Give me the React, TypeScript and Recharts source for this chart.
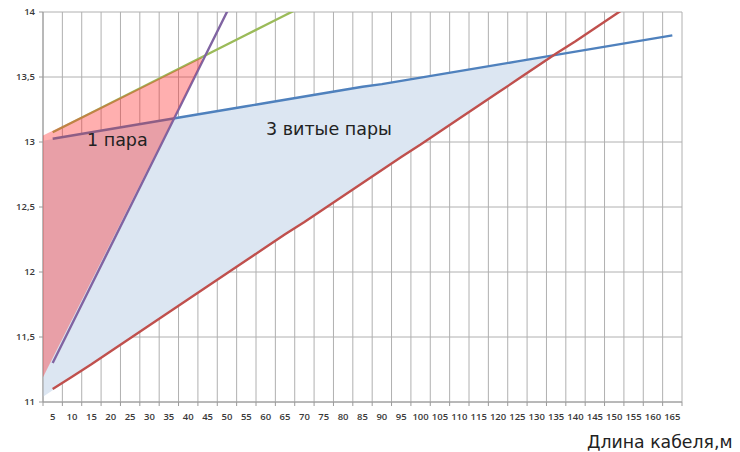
import { ComposedChart, Line, Area, XAxis, YAxis, CartesianGrid } from 'recharts';

// cable length, m (one category every 5 m)
const lengths = [5, 10, 15, 20, 25, 30, 35, 40, 45, 50, 55, 60, 65, 70, 75, 80, 85, 90, 95, 100, 105, 110, 115, 120, 125, 130, 135, 140, 145, 150, 155, 160, 165];

const blueLoss = [13.025, 13.05, 13.075, 13.1, 13.125, 13.15, 13.175, 13.2, 13.225, 13.25, 13.275, 13.3, 13.325, 13.35, 13.375, 13.4, 13.425, 13.445, 13.47, 13.495, 13.52, 13.545, 13.57, 13.595, 13.62, 13.645, 13.67, 13.695, 13.72, 13.745, 13.77, 13.795, 13.82];
const redLoss = [11.1, 11.195, 11.29, 11.39, 11.49, 11.59, 11.69, 11.79, 11.89, 11.99, 12.09, 12.19, 12.29, 12.385, 12.485, 12.585, 12.685, 12.785, 12.885, 12.98, 13.08, 13.18, 13.28, 13.38, 13.48, 13.58, 13.68, 13.775, 13.875, 13.975, 14.075, 14.175, 14.27];
const greenLoss = [13.075, 13.15, 13.225, 13.3, 13.375, 13.45, 13.525, 13.6, 13.675, 13.75, 13.825, 13.9, 13.975, 14.05];
const purpleLoss = [11.3, 11.6, 11.9, 12.2, 12.5, 12.8, 13.1, 13.4, 13.7, 14.0, 14.3];

// shaded zones: [left edge, right end]
const onePairX = [2.5, 43.5];
const onePairLow = [11.19, 13.62];
const onePairHigh = [13.05, 13.65];
const threePairX = [2.5, 135];
const threePairLow = [11.04, 13.67];
const threePairHigh = [13.01, 13.67];

const yTicks = [11, 11.5, 12, 12.5, 13, 13.5, 14];
const bandEdges = lengths.map((v) => v - 2.5).concat([167.5]);

const series = (vals: number[]) => vals.map((y, i) => ({ x: lengths[i], y }));
const zone = (xs: number[], lo: number[], hi: number[]) => xs.map((x, i) => ({ x, r: [lo[i], hi[i]] }));

const tickFont = { fontSize: 9.5, fill: '#3a3a3a', fontFamily: 'Open Sans', fontWeight: 600 };
const noLabel = () => <g />;

export default function App() {
    return (
        <div style={{ position: 'absolute', left: 0, top: 0, width: 740, height: 452, background: '#fff', fontFamily: 'DejaVu Sans' }}>
            <ComposedChart width={740} height={452} margin={{ top: 12, right: 58, left: 0, bottom: 25 }}>
                <CartesianGrid xAxisId="b" stroke="#b0b0b0" strokeWidth={1} />
                <XAxis
                    xAxisId="b"
                    type="number"
                    dataKey="x"
                    domain={[2.5, 167.5]}
                    ticks={bandEdges}
                    interval={0}
                    tick={noLabel}
                    tickSize={4}
                    height={5}
                    stroke="#9a9a9a"
                    allowDataOverflow
                />
                <XAxis
                    xAxisId="c"
                    type="number"
                    dataKey="x"
                    domain={[2.5, 167.5]}
                    ticks={lengths}
                    interval={0}
                    axisLine={false}
                    tickLine={false}
                    tickSize={0}
                    tickMargin={6}
                    height={20}
                    tick={tickFont}
                    allowDataOverflow
                />
                <YAxis
                    type="number"
                    domain={[11, 14]}
                    ticks={yTicks}
                    interval={0}
                    width={43}
                    tickSize={4}
                    tickMargin={4}
                    stroke="#9a9a9a"
                    tick={tickFont}
                    tickFormatter={(v: number) => String(v).replace('.', ',')}
                    allowDataOverflow
                />

                <Area xAxisId="b" data={zone(threePairX, threePairLow, threePairHigh)} dataKey="r" type="linear" stroke="none" fill="#dce6f2" fillOpacity={1} isAnimationActive={false} />

                <Line xAxisId="c" data={series(blueLoss)} dataKey="y" type="linear" stroke="#4f81bd" strokeWidth={2.4} dot={false} isAnimationActive={false} />
                <Line xAxisId="b" data={series(greenLoss)} dataKey="y" type="linear" stroke="#9bbb59" strokeWidth={2.4} dot={false} isAnimationActive={false} />
                <Line xAxisId="c" data={series(redLoss)} dataKey="y" type="linear" stroke="#c0504d" strokeWidth={2.4} dot={false} isAnimationActive={false} />
                <Line xAxisId="b" data={series(purpleLoss)} dataKey="y" type="linear" stroke="#8064a2" strokeWidth={2.4} dot={false} isAnimationActive={false} />

                {/* red zone sits over the lines, like in the original */}
                <Area xAxisId="b" data={zone(onePairX, onePairLow, onePairHigh)} dataKey="r" type="linear" stroke="none" fill="#ff2020" fillOpacity={0.36} isAnimationActive={false} zIndex={500} />
            </ComposedChart>

            <div style={{ position: 'absolute', left: 87, top: 130, fontSize: 17.5, color: '#222', whiteSpace: 'nowrap' }}>1 пара</div>
            <div style={{ position: 'absolute', left: 266, top: 119, fontSize: 17.5, color: '#222', whiteSpace: 'nowrap' }}>3 витые пары</div>
            <div style={{ position: 'absolute', left: 587, top: 432, fontSize: 17.3, color: '#222', whiteSpace: 'nowrap' }}>Длина кабеля,м</div>
        </div>
    );
}
